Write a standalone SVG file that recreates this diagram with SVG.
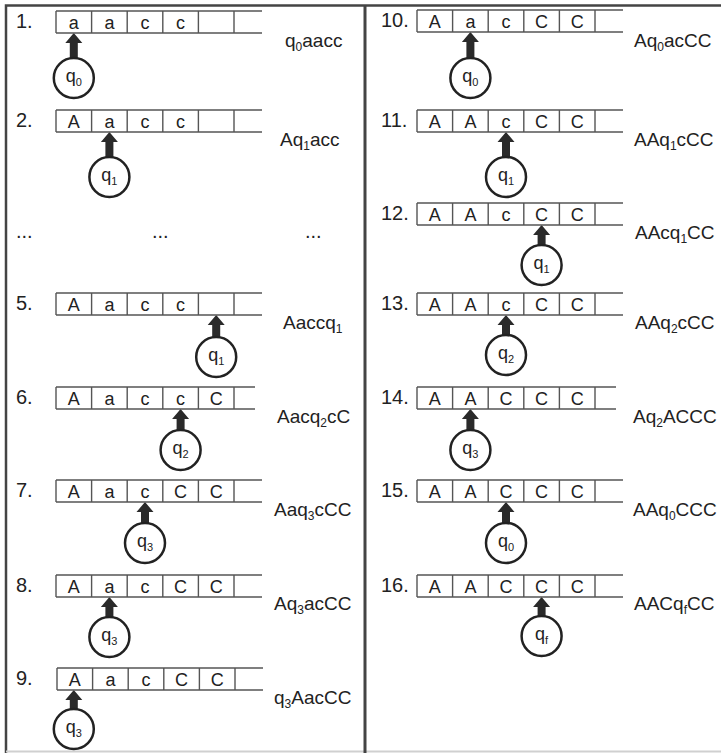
<svg xmlns="http://www.w3.org/2000/svg" xmlns:xlink="http://www.w3.org/1999/xlink" width="721" height="753" viewBox="0 0 721 753">
<style>
text{font-family:"Liberation Sans",Arial,sans-serif;fill:#222}
.num{font-size:20px}
.cell{font-size:18px;text-anchor:middle}
.lbl{font-size:19px}
.st{font-size:18px;text-anchor:middle}
.sub{font-size:12px}
.ssub{font-size:11px}
.tape{fill:none;stroke:#555;stroke-width:1.4}
.head{fill:#fff;stroke:#222;stroke-width:2.5}
.arw{fill:#2a2a2a}
.frame{fill:none;stroke:#444;stroke-width:2.5}
</style>
<defs>
<path id="tp" class="tape" d="M0,0H206M0,22H206M0,0V22M35.6,0V22M71.2,0V22M106.8,0V22M142.4,0V22M178,0V22"/>
<path id="tps" class="tape" d="M0,0H199M0,22H199M0,0V22M35.6,0V22M71.2,0V22M106.8,0V22M142.4,0V22M178,0V22"/>
<path id="arw" class="arw" d="M0,22L8.5,32H4V50H-4V32H-8.5Z"/>
</defs>
<rect width="721" height="753" fill="#fff"/>
<g id="frame">
<path class="frame" d="M6,753V5.5H721"/>
<path d="M6,751.5H721" stroke="#d0d0d0" stroke-width="2" fill="none"/>
<path d="M365,5V753" stroke="#444" stroke-width="3" fill="none"/>
</g>
<g id="connectors">
<use xlink:href="#arw" transform="translate(73.8,11)"/>
<use xlink:href="#arw" transform="translate(109.4,110)"/>
<use xlink:href="#arw" transform="translate(216.2,293)"/>
<use xlink:href="#arw" transform="translate(180.6,387)"/>
<use xlink:href="#arw" transform="translate(145,480)"/>
<use xlink:href="#arw" transform="translate(109.4,575)"/>
<use xlink:href="#arw" transform="translate(73.8,668)"/>
<use xlink:href="#arw" transform="translate(470.4,10)"/>
<use xlink:href="#arw" transform="translate(506,110)"/>
<use xlink:href="#arw" transform="translate(541.6,203)"/>
<use xlink:href="#arw" transform="translate(506,293)"/>
<use xlink:href="#arw" transform="translate(470.4,387)"/>
<use xlink:href="#arw" transform="translate(506,480)"/>
<use xlink:href="#arw" transform="translate(541.6,575)"/>
</g>
<g id="row1">
<text class="num" x="16" y="28">1.</text>
<use xlink:href="#tp" x="56" y="11"/>
<text class="cell" y="28.5"><tspan x="73.8">a</tspan><tspan x="109.4">a</tspan><tspan x="145">c</tspan><tspan x="180.6">c</tspan></text>
<circle class="head" cx="73.8" cy="78" r="20"/>
<text class="st" x="73.8" y="82">q<tspan class="ssub" dy="4">0</tspan></text>
<text class="lbl" x="285" y="47">q<tspan class="sub" dy="4">0</tspan><tspan dy="-4">aacc</tspan></text>
</g>
<g id="row2">
<text class="num" x="16" y="127">2.</text>
<use xlink:href="#tp" x="56" y="110"/>
<text class="cell" y="127.5"><tspan x="73.8">A</tspan><tspan x="109.4">a</tspan><tspan x="145">c</tspan><tspan x="180.6">c</tspan></text>
<circle class="head" cx="109.4" cy="177" r="20"/>
<text class="st" x="109.4" y="181">q<tspan class="ssub" dy="4">1</tspan></text>
<text class="lbl" x="280" y="146">Aq<tspan class="sub" dy="4">1</tspan><tspan dy="-4">acc</tspan></text>
</g>
<g id="dots">
<text class="num" x="16" y="238">...</text>
<text class="num" x="152" y="238">...</text>
<text class="num" x="305" y="238">...</text>
</g>
<g id="row5">
<text class="num" x="16" y="310">5.</text>
<use xlink:href="#tp" x="56" y="293"/>
<text class="cell" y="310.5"><tspan x="73.8">A</tspan><tspan x="109.4">a</tspan><tspan x="145">c</tspan><tspan x="180.6">c</tspan></text>
<circle class="head" cx="216.2" cy="357" r="20"/>
<text class="st" x="216.2" y="361">q<tspan class="ssub" dy="4">1</tspan></text>
<text class="lbl" x="283" y="329">Aaccq<tspan class="sub" dy="4">1</tspan></text>
</g>
<g id="row6">
<text class="num" x="16" y="404">6.</text>
<use xlink:href="#tps" x="56" y="387"/>
<text class="cell" y="404.5"><tspan x="73.8">A</tspan><tspan x="109.4">a</tspan><tspan x="145">c</tspan><tspan x="180.6">c</tspan><tspan x="216.2">C</tspan></text>
<circle class="head" cx="180.6" cy="450" r="20"/>
<text class="st" x="180.6" y="454">q<tspan class="ssub" dy="4">2</tspan></text>
<text class="lbl" x="277" y="423">Aacq<tspan class="sub" dy="4">2</tspan><tspan dy="-4">cC</tspan></text>
</g>
<g id="row7">
<text class="num" x="16" y="497">7.</text>
<use xlink:href="#tp" x="56" y="480"/>
<text class="cell" y="497.5"><tspan x="73.8">A</tspan><tspan x="109.4">a</tspan><tspan x="145">c</tspan><tspan x="180.6">C</tspan><tspan x="216.2">C</tspan></text>
<circle class="head" cx="145" cy="543" r="20"/>
<text class="st" x="145" y="547">q<tspan class="ssub" dy="4">3</tspan></text>
<text class="lbl" x="274" y="516">Aaq<tspan class="sub" dy="4">3</tspan><tspan dy="-4">cCC</tspan></text>
</g>
<g id="row8">
<text class="num" x="16" y="592">8.</text>
<use xlink:href="#tp" x="56" y="575"/>
<text class="cell" y="592.5"><tspan x="73.8">A</tspan><tspan x="109.4">a</tspan><tspan x="145">c</tspan><tspan x="180.6">C</tspan><tspan x="216.2">C</tspan></text>
<circle class="head" cx="109.4" cy="637" r="20"/>
<text class="st" x="109.4" y="641">q<tspan class="ssub" dy="4">3</tspan></text>
<text class="lbl" x="274" y="610">Aq<tspan class="sub" dy="4">3</tspan><tspan dy="-4">acCC</tspan></text>
</g>
<g id="row9">
<text class="num" x="16" y="685">9.</text>
<use xlink:href="#tp" x="57" y="668"/>
<text class="cell" y="685.5"><tspan x="74.8">A</tspan><tspan x="110.4">a</tspan><tspan x="146">c</tspan><tspan x="181.6">C</tspan><tspan x="217.2">C</tspan></text>
<circle class="head" cx="73.8" cy="729" r="20"/>
<text class="st" x="73.8" y="733">q<tspan class="ssub" dy="4">3</tspan></text>
<text class="lbl" x="274" y="704">q<tspan class="sub" dy="4">3</tspan><tspan dy="-4">AacCC</tspan></text>
</g>
<g id="row10">
<text class="num" x="381" y="27">10.</text>
<use xlink:href="#tp" x="417" y="10"/>
<text class="cell" y="27.5"><tspan x="434.8">A</tspan><tspan x="470.4">a</tspan><tspan x="506">c</tspan><tspan x="541.6">C</tspan><tspan x="577.2">C</tspan></text>
<circle class="head" cx="470.4" cy="78" r="20"/>
<text class="st" x="470.4" y="82">q<tspan class="ssub" dy="4">0</tspan></text>
<text class="lbl" x="634" y="47">Aq<tspan class="sub" dy="4">0</tspan><tspan dy="-4">acCC</tspan></text>
</g>
<g id="row11">
<text class="num" x="381" y="127">11.</text>
<use xlink:href="#tp" x="417" y="110"/>
<text class="cell" y="127.5"><tspan x="434.8">A</tspan><tspan x="470.4">A</tspan><tspan x="506">c</tspan><tspan x="541.6">C</tspan><tspan x="577.2">C</tspan></text>
<circle class="head" cx="506" cy="177" r="20"/>
<text class="st" x="506" y="181">q<tspan class="ssub" dy="4">1</tspan></text>
<text class="lbl" x="634" y="146">AAq<tspan class="sub" dy="4">1</tspan><tspan dy="-4">cCC</tspan></text>
</g>
<g id="row12">
<text class="num" x="381" y="220">12.</text>
<use xlink:href="#tp" x="417" y="203"/>
<text class="cell" y="220.5"><tspan x="434.8">A</tspan><tspan x="470.4">A</tspan><tspan x="506">c</tspan><tspan x="541.6">C</tspan><tspan x="577.2">C</tspan></text>
<circle class="head" cx="541.6" cy="265" r="20"/>
<text class="st" x="541.6" y="269">q<tspan class="ssub" dy="4">1</tspan></text>
<text class="lbl" x="635" y="239">AAcq<tspan class="sub" dy="4">1</tspan><tspan dy="-4">CC</tspan></text>
</g>
<g id="row13">
<text class="num" x="381" y="310">13.</text>
<use xlink:href="#tp" x="417" y="293"/>
<text class="cell" y="310.5"><tspan x="434.8">A</tspan><tspan x="470.4">A</tspan><tspan x="506">c</tspan><tspan x="541.6">C</tspan><tspan x="577.2">C</tspan></text>
<circle class="head" cx="506" cy="355" r="20"/>
<text class="st" x="506" y="359">q<tspan class="ssub" dy="4">2</tspan></text>
<text class="lbl" x="635" y="329">AAq<tspan class="sub" dy="4">2</tspan><tspan dy="-4">cCC</tspan></text>
</g>
<g id="row14">
<text class="num" x="381" y="404">14.</text>
<use xlink:href="#tps" x="417" y="387"/>
<text class="cell" y="404.5"><tspan x="434.8">A</tspan><tspan x="470.4">A</tspan><tspan x="506">C</tspan><tspan x="541.6">C</tspan><tspan x="577.2">C</tspan></text>
<circle class="head" cx="470.4" cy="450" r="20"/>
<text class="st" x="470.4" y="454">q<tspan class="ssub" dy="4">3</tspan></text>
<text class="lbl" x="633" y="423">Aq<tspan class="sub" dy="4">2</tspan><tspan dy="-4">ACCC</tspan></text>
</g>
<g id="row15">
<text class="num" x="381" y="497">15.</text>
<use xlink:href="#tp" x="417" y="480"/>
<text class="cell" y="497.5"><tspan x="434.8">A</tspan><tspan x="470.4">A</tspan><tspan x="506">C</tspan><tspan x="541.6">C</tspan><tspan x="577.2">C</tspan></text>
<circle class="head" cx="506" cy="543" r="20"/>
<text class="st" x="506" y="547">q<tspan class="ssub" dy="4">0</tspan></text>
<text class="lbl" x="633" y="516">AAq<tspan class="sub" dy="4">0</tspan><tspan dy="-4">CCC</tspan></text>
</g>
<g id="row16">
<text class="num" x="381" y="592">16.</text>
<use xlink:href="#tp" x="417" y="575"/>
<text class="cell" y="592.5"><tspan x="434.8">A</tspan><tspan x="470.4">A</tspan><tspan x="506">C</tspan><tspan x="541.6">C</tspan><tspan x="577.2">C</tspan></text>
<circle class="head" cx="541.6" cy="636" r="20"/>
<text class="st" x="541.6" y="640">q<tspan class="ssub" dy="4">f</tspan></text>
<text class="lbl" x="634" y="610">AACq<tspan class="sub" dy="4">f</tspan><tspan dy="-4">CC</tspan></text>
</g>
</svg>
